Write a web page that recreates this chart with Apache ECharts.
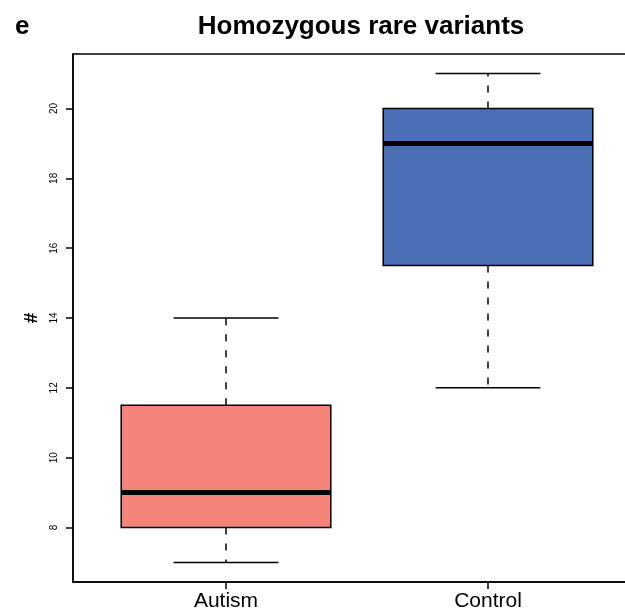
<!DOCTYPE html>
<html>
<head>
<meta charset="utf-8">
<script src="https://cdn.jsdelivr.net/npm/echarts@6/dist/echarts.min.js"></script>
<style>
  html, body { margin: 0; padding: 0; overflow: hidden; background: #fff; }
  #chart { width: 660px; height: 612px; }
</style>
</head>
<body>
<div id="chart"></div>
<script>
// Group names and five-number summaries of each box
const categories = ['Autism', 'Control'];
const whiskerLow = [7, 12];
const lowerQuartile = [8, 15.5];
const medians = [9, 19];
const upperQuartile = [11.5, 20];
const whiskerHigh = [14, 21];
const yTicks = [8, 10, 12, 14, 16, 18, 20];

// Box fill per group
const boxFill = ['#F4837A', '#4A6FB6'];

// Each group sits at integer position 1, 2, ... on the x axis
const boxData = categories.map((_, i) => [
  i + 1, whiskerLow[i], lowerQuartile[i], medians[i], upperQuartile[i], whiskerHigh[i]
]);

const yMin = 7 - (21 - 7) * 0.04;
const yMax = 21 + (21 - 7) * 0.04;

function renderBox(params, api) {
  const x = api.value(0);
  const lo = api.coord([x, api.value(1)]);
  const q1 = api.coord([x, api.value(2)]);
  const md = api.coord([x, api.value(3)]);
  const q3 = api.coord([x, api.value(4)]);
  const hi = api.coord([x, api.value(5)]);
  const boxW = api.size([0.8, 0])[0];
  const capW = api.size([0.4, 0])[0];
  const cx = lo[0];
  const dashed = { stroke: '#000', lineWidth: 1.5, lineDash: [7, 9] };
  const solid = { stroke: '#000', lineWidth: 1.5 };
  return {
    type: 'group',
    children: [
      { type: 'line', shape: { x1: cx, y1: q3[1], x2: cx, y2: hi[1] }, style: dashed },
      { type: 'line', shape: { x1: cx, y1: q1[1], x2: cx, y2: lo[1] }, style: dashed },
      { type: 'line', shape: { x1: cx - capW / 2, y1: hi[1], x2: cx + capW / 2, y2: hi[1] }, style: solid },
      { type: 'line', shape: { x1: cx - capW / 2, y1: lo[1], x2: cx + capW / 2, y2: lo[1] }, style: solid },
      {
        type: 'rect',
        shape: { x: cx - boxW / 2, y: q3[1], width: boxW, height: q1[1] - q3[1] },
        style: { fill: boxFill[params.dataIndex], stroke: '#000', lineWidth: 1.5 }
      },
      {
        type: 'line',
        shape: { x1: cx - boxW / 2, y1: md[1], x2: cx + boxW / 2, y2: md[1] },
        style: { stroke: '#000', lineWidth: 5, lineCap: 'butt' }
      }
    ]
  };
}

const chart = echarts.init(document.getElementById('chart'), null, { renderer: 'canvas' });
chart.setOption({
  animation: false,
  textStyle: { fontFamily: 'Liberation Sans, Arial, sans-serif' },
  title: [
    {
      text: 'Homozygous rare variants',
      left: 356, top: 9, textAlign: 'center',
      textStyle: { fontSize: 26, fontWeight: 'bold', color: '#000', fontFamily: 'Liberation Sans' }
    },
    {
      text: 'e',
      left: 10, top: 9,
      textStyle: { fontSize: 26, fontWeight: 'bold', color: '#000', fontFamily: 'Liberation Sans' }
    }
  ],
  grid: {
    left: 73, top: 54, width: 568, height: 528,
    show: true, borderColor: '#000', borderWidth: 1.5, backgroundColor: 'transparent'
  },
  xAxis: {
    type: 'value',
    min: 0.416, max: 2.584,
    splitLine: { show: false },
    axisLine: { show: true, lineStyle: { color: '#000', width: 1.5 } },
    axisTick: {
      show: true, length: 7, inside: false,
      customValues: categories.map((_, i) => i + 1),
      lineStyle: { color: '#000', width: 1.5 }
    },
    axisLabel: {
      show: true, margin: 9,
      customValues: categories.map((_, i) => i + 1),
      formatter: v => categories[Math.round(v) - 1] || '',
      fontSize: 21, color: '#000', fontFamily: 'Liberation Sans'
    }
  },
  yAxis: {
    type: 'value',
    min: yMin, max: yMax,
    name: '#',
    nameLocation: 'middle',
    nameRotate: 90,
    nameGap: 31,
    nameTextStyle: { fontSize: 19, fontWeight: 'bold', color: '#000', fontFamily: 'Liberation Sans' },
    splitLine: { show: false },
    axisLine: { show: true, lineStyle: { color: '#000', width: 1.5 } },
    axisTick: {
      show: true, length: 7,
      customValues: yTicks,
      lineStyle: { color: '#000', width: 1.5 }
    },
    axisLabel: {
      show: true, rotate: 90, margin: 14,
      customValues: yTicks,
      fontSize: 10, color: '#000', fontFamily: 'Liberation Sans'
    }
  },
  series: [{
    type: 'custom',
    renderItem: renderBox,
    data: boxData,
    encode: { x: 0, y: [1, 2, 3, 4, 5] },
    clip: false
  }]
});
</script>
</body>
</html>
